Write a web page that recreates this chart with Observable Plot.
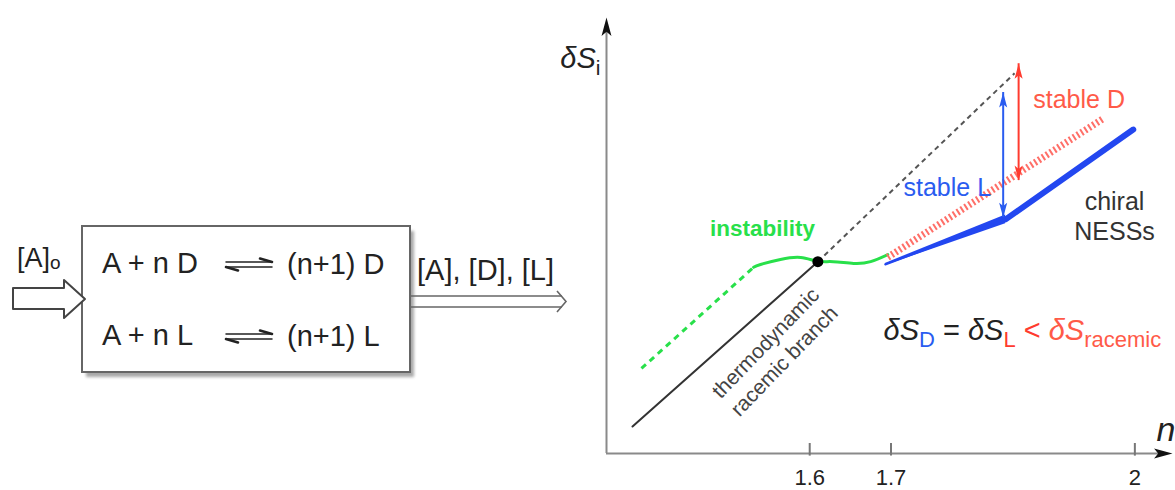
<!DOCTYPE html>
<html><head><meta charset="utf-8">
<script src="https://cdn.jsdelivr.net/npm/d3@7"></script>
<script src="https://cdn.jsdelivr.net/npm/@observablehq/plot@0.6"></script>
<style>
body{margin:0;background:#fff}
#wrap{position:relative;width:1175px;height:490px;overflow:hidden;font-family:"Liberation Sans",Arial,sans-serif}
#wrap svg{position:absolute;left:0;top:0}
</style>
</head><body><div id="wrap"></div>
<script>
// ---------- data (n on x, δS_i on y, arbitrary units) ----------
const tickValues = [1.6, 1.7, 2];
const tickLabels = ["1.6", "1.7", "2"];
const racemicN = [1.382, 1.61], racemicS = [6.2, 44.0];
const extrapN = [1.61, 1.852], extrapS = [44.0, 87.2];
const instabDashN = [1.393, 1.531], instabDashS = [19.5, 42.7];
const instabN = [1.531, 1.5395, 1.564, 1.589, 1.61, 1.629, 1.654, 1.675, 1.696];
const instabS = [42.7, 43.35, 44.5, 44.95, 44.1, 44.0, 43.6, 44.0, 45.6];
const chiralLN = [1.693, 1.841, 1.998], chiralLS = [43.35, 53.7, 74.3];
const chiralDN = [1.696, 1.961], chiralDS = [45.0, 76.8];
const criticalN = [1.61], criticalS = [44.0];
const gapLN = [1.838], gapLS = [[54.1, 82.8]];
const gapDN = [1.857], gapDS = [[62.6, 89.4]];
const reactions = [["A + n D", "(n+1) D"], ["A + n L", "(n+1) L"]];
const inputLabel = ["[A]", "o"];
const outputLabel = "[A], [D], [L]";

const zip = (xs, ys) => xs.map((n, i) => ({n, s: ys[i]}));
const racemic = zip(racemicN, racemicS);
const extrap = zip(extrapN, extrapS);
const instabDash = zip(instabDashN, instabDashS);
const instab = zip(instabN, instabS);
const chiralL = zip(chiralLN, chiralLS);
const chiralD = zip(chiralDN, chiralDS);
const critical = zip(criticalN, criticalS);
const gapL = gapLN.map((n, i) => ({n, s1: gapLS[i][0], s2: gapLS[i][1]}));
const gapD = gapDN.map((n, i) => ({n, s1: gapDS[i][0], s2: gapDS[i][1]}));

// ---------- colours ----------
const BLUE = "#2347f0", BLUE_T = "#2a5cf0", RED = "#ff3b2f", RED_T = "#ff5a48", PINK = "#ff6f68", GREEN = "#28e04a";
const FONT = "Liberation Sans, Arial, sans-serif";

// filled arrow-head symbol, tip at the anchor
function head(dir) {
  return {draw(ctx, size) {
    const r = Math.sqrt(size / Math.PI), L = 2.3 * r, w = 0.62 * r, k = 0.78 * L;
    const pts = [[0, 0], [w, L], [0, k], [-w, L]].map(([x, y]) =>
      dir === "up" ? [x, y] : dir === "down" ? [x, -y] : [-y, x]);
    ctx.moveTo(...pts[0]); pts.slice(1).forEach(p => ctx.lineTo(...p)); ctx.closePath();
  }};
}

const wedgeHalf = [0.25, 1.0];
const chart = Plot.plot({
  width: 1175, height: 490,
  marginLeft: 606, marginRight: 0, marginTop: 17, marginBottom: 37,
  x: {domain: [1.35, 2.05], axis: null},
  y: {domain: [0, 100], axis: null},
  style: {fontFamily: FONT, background: "transparent", overflow: "visible"},
  marks: [
    // axes
    Plot.ruleY([0], {x1: 1.35, x2: 2.035, stroke: "#8a8a8a", strokeWidth: 2}),
    Plot.ruleX([1.35], {y1: 0, y2: 97, stroke: "#8a8a8a", strokeWidth: 2}),
    Plot.dot([0], {x: 2.0463, y: 0, symbol: head("right"), r: 8, fill: "#111", stroke: "none"}),
    Plot.dot([0], {x: 1.35, y: 100, symbol: head("up"), r: 8, fill: "#111", stroke: "none"}),
    Plot.ruleX(tickValues, {y1: -0.6, y2: 2.3, stroke: "#777", strokeWidth: 2}),
    Plot.text(tickValues, {x: d => d, y: -5.5, text: (d, i) => tickLabels[i], fontSize: 22, fill: "#222"}),
    // curves
    Plot.line(instabDash, {x: "n", y: "s", stroke: GREEN, strokeWidth: 3, strokeDasharray: "6,5", strokeLinecap: "butt"}),
    Plot.line(instab, {x: "n", y: "s", curve: "natural", stroke: GREEN, strokeWidth: 3}),
    Plot.line(racemic, {x: "n", y: "s", stroke: "#333", strokeWidth: 2}),
    Plot.line(extrap, {x: "n", y: "s", stroke: "#555", strokeWidth: 2, strokeDasharray: "5,4", strokeLinecap: "butt"}),
    Plot.line(chiralD, {x: "n", y: "s", stroke: PINK, strokeWidth: 7, strokeDasharray: "2,2.6", strokeLinecap: "butt"}),
    Plot.areaY(chiralL.slice(0, 2), {x: "n", y1: (d, i) => d.s - wedgeHalf[i], y2: (d, i) => d.s + wedgeHalf[i], fill: BLUE}),
    Plot.line(chiralL.slice(1), {x: "n", y: "s", stroke: BLUE, strokeWidth: 6, strokeLinecap: "round"}),
    Plot.line(chiralL.slice(0, 2), {x: "n", y: "s", stroke: BLUE, strokeWidth: 2, strokeLinecap: "round"}),
    Plot.dot(critical, {x: "n", y: "s", r: 5.5, fill: "#000"}),
    // stability gaps
    Plot.ruleX(gapL, {x: "n", y1: "s1", y2: "s2", stroke: BLUE_T, strokeWidth: 2}),
    Plot.dot(gapL, {x: "n", y: "s2", symbol: head("up"), r: 6.5, fill: BLUE_T, stroke: "none"}),
    Plot.dot(gapL, {x: "n", y: "s1", symbol: head("down"), r: 6.5, fill: BLUE_T, stroke: "none"}),
    Plot.ruleX(gapD, {x: "n", y1: "s1", y2: "s2", stroke: RED, strokeWidth: 2}),
    Plot.dot(gapD, {x: "n", y: "s2", symbol: head("up"), r: 6.5, fill: RED, stroke: "none"}),
    Plot.dot(gapD, {x: "n", y: "s1", symbol: head("down"), r: 6.5, fill: RED, stroke: "none"}),
    // labels
    Plot.text(["instability"], {x: 1.542, y: 51.6, text: d => d, fill: GREEN, fontSize: 22.5, fontWeight: "bold"}),
    Plot.text(["stable D"], {x: 1.875, y: 81, text: d => d, fill: RED_T, fontSize: 25, textAnchor: "start"}),
    Plot.text(["stable L"], {x: 1.7154, y: 60.8, text: d => d, fill: BLUE_T, fontSize: 25, textAnchor: "start"}),
    Plot.text(["chiral\nNESSs"], {x: 1.975, y: 54.6, text: d => d, fill: "#333", fontSize: 25, lineHeight: 1.2}),
    Plot.text(["thermodynamic\nracemic branch"], {x: 1.556, y: 23.5, text: d => d, fill: "#444", fontSize: 21, rotate: -46, lineHeight: 1.24}),
    Plot.text(["EQUATION"], {x: 1.6908, y: 28.2, text: d => d, fontSize: 29, textAnchor: "start", fill: "#222"}),
    Plot.text(["YLABEL"], {x: 1.3426, y: 90.6, text: d => d, fontSize: 29, textAnchor: "end", fill: "#222"}),
    Plot.text(["n"], {x: 2.0266, y: 5.3, text: d => d, fontSize: 34, fontStyle: "italic", textAnchor: "start", fill: "#222"})
  ]
});

// rich (multi-colour, subscript) labels
const findText = s => Array.from(chart.querySelectorAll("text")).find(t => t.textContent === s);
const eq = findText("EQUATION");
if (eq) eq.innerHTML = '<tspan font-style="italic">δS</tspan><tspan fill="' + BLUE_T + '" font-size="22" dy="7">D</tspan>' +
  '<tspan dy="-7"> = </tspan><tspan font-style="italic">δS</tspan><tspan fill="' + RED + '" font-size="22" dy="7">L</tspan>' +
  '<tspan fill="' + RED + '" dy="-7"> &lt; </tspan><tspan fill="' + RED_T + '" font-style="italic">δS</tspan>' +
  '<tspan fill="' + RED_T + '" font-size="22" dy="7">racemic</tspan>';
const yl = findText("YLABEL");
if (yl) yl.innerHTML = '<tspan font-style="italic">δS</tspan><tspan font-size="21" dy="7">i</tspan>';

const wrap = document.getElementById("wrap");
wrap.appendChild(chart);

// ---------- schematic of the open reactor ----------
const sch = d3.select(wrap).append("svg").attr("width", 1175).attr("height", 490)
  .style("font-family", FONT);
const defs = sch.append("defs");
defs.append("filter").attr("id", "blur").append("feGaussianBlur").attr("stdDeviation", 1.4);
sch.append("rect").attr("x", 86).attr("y", 231).attr("width", 328).attr("height", 146)
  .attr("fill", "#a9a9a9").attr("filter", "url(#blur)");
sch.append("rect").attr("x", 82).attr("y", 226).attr("width", 328).attr("height", 146)
  .attr("fill", "#fff").attr("stroke", "#666").attr("stroke-width", 2);
const rowBase = [273, 345];
reactions.forEach((r, i) => {
  sch.append("text").attr("x", 102).attr("y", rowBase[i]).attr("font-size", 29).attr("fill", "#222").text(r[0]);
  sch.append("text").attr("x", 287).attr("y", rowBase[i] + 1).attr("font-size", 29).attr("fill", "#222").text(r[1]);
  const yTop = rowBase[i] - 11, yBot = rowBase[i] - 6;
  const g = sch.append("g").attr("stroke", "#222").attr("fill", "none").attr("stroke-linecap", "round");
  g.append("line").attr("x1", 226).attr("x2", 272).attr("y1", yTop).attr("y2", yTop).attr("stroke-width", 1.5);
  g.append("line").attr("x1", 260).attr("x2", 272).attr("y1", yTop - 3.5).attr("y2", yTop).attr("stroke-width", 2.6);
  g.append("line").attr("x1", 226).attr("x2", 272).attr("y1", yBot).attr("y2", yBot).attr("stroke-width", 1.5);
  g.append("line").attr("x1", 226).attr("x2", 238).attr("y1", yBot).attr("y2", yBot + 3.5).attr("stroke-width", 2.6);
});
const inl = sch.append("text").attr("x", 17).attr("y", 267).attr("font-size", 27).attr("fill", "#222");
inl.append("tspan").text(inputLabel[0]);
inl.append("tspan").attr("font-size", 19).attr("dy", 2).text(inputLabel[1]);
sch.append("path").attr("d", "M13,288H64V280L85,299L64,318V309H13Z")
  .attr("fill", "#fff").attr("stroke", "#444").attr("stroke-width", 2).attr("stroke-linejoin", "round");
sch.append("text").attr("x", 417).attr("y", 280).attr("font-size", 29).attr("fill", "#222").text(outputLabel);
const out = sch.append("g").attr("stroke", "#666").attr("stroke-width", 1.6).attr("fill", "none");
out.append("line").attr("x1", 411).attr("x2", 562).attr("y1", 296).attr("y2", 296);
out.append("line").attr("x1", 411).attr("x2", 562).attr("y1", 307).attr("y2", 307);
out.append("path").attr("d", "M557,291L566,301.5L557,312");
</script>
</body></html>
